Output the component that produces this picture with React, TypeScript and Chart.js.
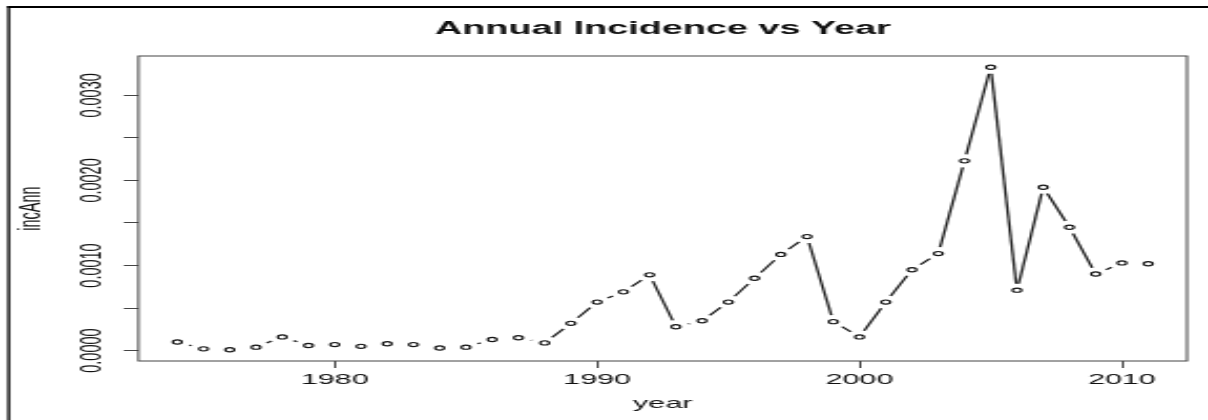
import { useEffect, useRef } from 'react';
import { Chart, registerables } from 'chart.js';

Chart.register(...registerables);

// Annual incidence by year
const years = [
  1974, 1975, 1976, 1977, 1978, 1979, 1980, 1981, 1982, 1983,
  1984, 1985, 1986, 1987, 1988, 1989, 1990, 1991, 1992, 1993,
  1994, 1995, 1996, 1997, 1998, 1999, 2000, 2001, 2002, 2003,
  2004, 2005, 2006, 2007, 2008, 2009, 2010, 2011,
];
const incAnn = [
  0.0001, 0.00002, 0.00001, 0.00004, 0.00016, 0.00006, 0.00007, 0.00005, 0.00008, 0.00007,
  0.00003, 0.00004, 0.00013, 0.00015, 0.00009, 0.00032, 0.00057, 0.00069, 0.00089, 0.00028,
  0.00035, 0.00057, 0.00085, 0.00113, 0.00134, 0.00034, 0.00016, 0.00057, 0.00095, 0.00114,
  0.00223, 0.00333, 0.00071, 0.00192, 0.00145, 0.0009, 0.00103, 0.00102,
];

// Axis ticks
const xTickValues = [1980, 1990, 2000, 2010];
const yTickValues = [0, 0.0005, 0.001, 0.0015, 0.002, 0.0025, 0.003];
const yLabelledTicks = [0, 0.001, 0.002, 0.003];

const TITLE = 'Annual Incidence vs Year';
const X_TITLE = 'year';
const Y_TITLE = 'incAnn';

// The drawing surface is rendered narrow and stretched wide on screen.
const CANVAS_W = 575;
const CANVAS_H = 420;
const PAGE_W = 1208;
const FONT = '"Liberation Sans", Arial, Helvetica, sans-serif';
const INK = '#111111';
const AXIS_INK = '#444';

// Extend a data range by 4% on each side, like base R plots.
function paddedRange(values: number[]): [number, number] {
  const lo = Math.min(...values);
  const hi = Math.max(...values);
  const pad = (hi - lo) * 0.04;
  return [lo - pad, hi + pad];
}

// Lines between neighbouring points, with a gap left around each point.
const gappedLinePlugin = {
  id: 'gappedLine',
  beforeDatasetsDraw(chart: any) {
    const meta = chart.getDatasetMeta(0);
    const pts = meta.data;
    const gap = 6.5;
    const ctx = chart.ctx;
    ctx.save();
    ctx.strokeStyle = '#222222';
    ctx.lineWidth = 1.3;
    ctx.lineCap = 'butt';
    for (let i = 1; i < pts.length; i++) {
      const a = pts[i - 1];
      const b = pts[i];
      const dx = b.x - a.x;
      const dy = b.y - a.y;
      const d = Math.hypot(dx, dy);
      if (d <= 2 * gap) continue;
      const f = gap / d;
      ctx.beginPath();
      ctx.moveTo(a.x + dx * f, a.y + dy * f);
      ctx.lineTo(b.x - dx * f, b.y - dy * f);
      ctx.stroke();
    }
    ctx.restore();
  },
};

// Figure frame (left and top edges) and the box round the plot region.
const framePlugin = {
  id: 'frame',
  beforeDraw(chart: any) {
    const ctx = chart.ctx;
    ctx.save();
    ctx.fillStyle = '#ffffff';
    ctx.fillRect(0, 0, chart.width, chart.height);
    ctx.strokeStyle = '#000000';
    ctx.lineWidth = 1.3;
    ctx.beginPath();
    ctx.moveTo(4.1, 6);
    ctx.lineTo(4.1, chart.height);
    ctx.stroke();
    ctx.lineWidth = 2;
    ctx.beginPath();
    ctx.moveTo(3.5, 7);
    ctx.lineTo(chart.width, 7);
    ctx.stroke();
    ctx.restore();
  },
  afterDraw(chart: any) {
    const { left, top, right, bottom } = chart.chartArea;
    const ctx = chart.ctx;
    ctx.save();
    ctx.strokeStyle = AXIS_INK;
    ctx.lineWidth = 1;
    ctx.strokeRect(left, top, right - left, bottom - top);
    ctx.restore();
  },
};

export default function App() {
  const canvasRef = useRef<HTMLCanvasElement | null>(null);

  useEffect(() => {
    const canvas = canvasRef.current;
    if (!canvas) return;
    const [xMin, xMax] = paddedRange(years);
    const [yMin, yMax] = paddedRange(incAnn);

    const chart = new Chart(canvas, {
      type: 'line',
      data: {
        datasets: [
          {
            data: years.map((yr, i) => ({ x: yr, y: incAnn[i] })),
            showLine: false,
            pointStyle: 'circle',
            pointRadius: 2.1,
            pointHoverRadius: 2.1,
            pointBorderWidth: 1.15,
            pointBorderColor: '#151515',
            pointBackgroundColor: 'rgba(0,0,0,0)',
          },
        ],
      },
      options: {
        responsive: false,
        animation: false,
        devicePixelRatio: 1,
        events: [],
        layout: { padding: { left: 0, right: 10, top: 0, bottom: 0 } },
        plugins: {
          legend: { display: false },
          tooltip: { enabled: false },
          title: {
            display: true,
            text: TITLE,
            fullSize: false,
            color: INK,
            font: { family: FONT, size: 18, weight: 'bold', lineHeight: 1.2 },
            padding: { top: 18.2, bottom: 16.2 },
          },
        },
        scales: {
          x: {
            type: 'linear',
            min: xMin,
            max: xMax,
            bounds: 'data',
            afterBuildTicks: (scale: any) => {
              scale.ticks = xTickValues.map((v) => ({ value: v }));
            },
            afterFit: (scale: any) => {
              scale.height = 59;
            },
            grid: {
              drawOnChartArea: false,
              drawTicks: true,
              tickLength: 7,
              color: AXIS_INK,
              lineWidth: 1,
            },
            border: { display: false },
            ticks: {
              autoSkip: false,
              minRotation: 0,
              maxRotation: 0,
              padding: 3.6,
              color: INK,
              font: { family: FONT, size: 14.5 },
              callback: (v: any) => String(v),
            },
            title: {
              display: true,
              text: X_TITLE,
              color: INK,
              font: { family: FONT, size: 14.5, lineHeight: 1.2 },
              padding: { top: 0, bottom: 7.8 },
            },
          },
          y: {
            type: 'linear',
            min: yMin,
            max: yMax,
            bounds: 'data',
            afterBuildTicks: (scale: any) => {
              scale.ticks = yTickValues.map((v) => ({ value: v }));
            },
            afterFit: (scale: any) => {
              scale.width = 65.9;
            },
            grid: {
              drawOnChartArea: false,
              drawTicks: true,
              tickLength: 7,
              color: AXIS_INK,
              lineWidth: 1,
            },
            border: { display: false },
            ticks: {
              autoSkip: false,
              minRotation: 90,
              maxRotation: 90,
              crossAlign: 'center',
              padding: -6.8,
              color: INK,
              font: { family: FONT, size: 14.5 },
              callback: (v: any) => (yLabelledTicks.includes(v) ? Number(v).toFixed(4) : ''),
            },
            title: {
              display: true,
              text: Y_TITLE,
              color: INK,
              font: { family: FONT, size: 14.5, lineHeight: 1.2 },
              padding: { top: 6.4, bottom: 0 },
            },
          },
        },
      } as any,
      plugins: [framePlugin, gappedLinePlugin],
    });

    return () => {
      chart.destroy();
    };
  }, []);

  return (
    <div style={{ position: 'absolute', left: 0, top: 0, width: PAGE_W, height: CANVAS_H, background: '#fff' }}>
      <canvas
        ref={canvasRef}
        width={CANVAS_W}
        height={CANVAS_H}
        style={{ display: 'block', width: `${PAGE_W}px`, height: `${CANVAS_H}px` }}
      />
    </div>
  );
}
